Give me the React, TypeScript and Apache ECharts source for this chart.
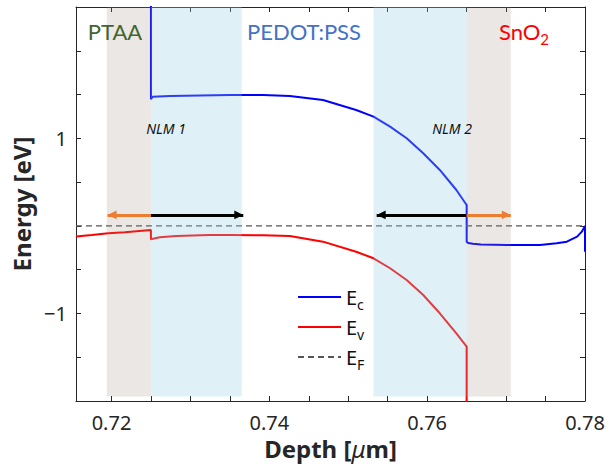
import React, { useEffect, useRef } from "react";
import * as echarts from "echarts";

// Axis ranges and ticks
const depthMin = 0.7155;
const depthMax = 0.78;
const energyMin = -2;
const energyMax = 2.5;
const depthTicks = [0.72, 0.725, 0.73, 0.735, 0.74, 0.745, 0.75, 0.755, 0.76, 0.765, 0.77, 0.775, 0.78];
const depthLabels = [0.72, 0.74, 0.76, 0.78];
const energyLabels = [-1, 1];

// Conduction band E_c
const ecDepth = [0.725, 0.725, 0.7252, 0.7274, 0.7312, 0.735, 0.7392, 0.7426, 0.7468, 0.751, 0.7532, 0.7553, 0.7574, 0.7595, 0.7616, 0.7637, 0.765, 0.765, 0.7652, 0.7658, 0.7668, 0.7701, 0.7743, 0.7764, 0.7777, 0.779, 0.7796, 0.78, 0.78];
const ecEnergy = [3.0, 1.446, 1.476, 1.484, 1.49, 1.495, 1.495, 1.484, 1.438, 1.324, 1.248, 1.133, 1.001, 0.829, 0.639, 0.41, 0.239, -0.18, -0.195, -0.205, -0.212, -0.218, -0.218, -0.199, -0.18, -0.123, -0.066, 0.0, -0.295];

// Valence band E_v
const evDepth = [0.7155, 0.7175, 0.7196, 0.7217, 0.725, 0.725, 0.7261, 0.7282, 0.7324, 0.735, 0.7392, 0.7426, 0.7468, 0.751, 0.7532, 0.7553, 0.7574, 0.7595, 0.7616, 0.7637, 0.765, 0.765];
const evEnergy = [-0.12, -0.104, -0.085, -0.073, -0.047, -0.153, -0.13, -0.115, -0.104, -0.104, -0.107, -0.115, -0.18, -0.295, -0.37, -0.484, -0.618, -0.789, -0.998, -1.227, -1.38, -2.5];

// Fermi level E_F
const efDepth = [0.7155, 0.78];
const efEnergy = [0, 0];

// Layer regions
const regionKind = ["oxide", "nlm", "nlm", "oxide"];
const regionStart = [0.7194, 0.725, 0.7532, 0.765];
const regionEnd = [0.725, 0.7365, 0.765, 0.7706];
const regionBottom = -1.95;

// Arrows
const arrowKind = ["interface", "bulk", "bulk", "interface"];
const arrowStart = [0.725, 0.725, 0.765, 0.765];
const arrowEnd = [0.7195, 0.7367, 0.7536, 0.7706];
const arrowEnergy = 0.125;

const zip = (xs: number[], ys: number[]) => xs.map((x, i) => [x, ys[i]]);

const AXIS = "#262626";
const SANS = "'Noto Sans', 'DejaVu Sans', sans-serif";
const NOTE = "Lato, 'Noto Sans', sans-serif";
// arrow head whose tip sits at the symbol centre (so the tip lands on the end point)
const ARROW_HEAD = "path://M10 10 L14.4 19 L5.6 19 Z M0 0 L20 0 M0 20 L20 20";

export default function App() {
  const ref = useRef<HTMLDivElement>(null);
  useEffect(() => {
    if (!ref.current) return;
    const chart = echarts.init(ref.current, undefined, { renderer: "svg" });
    const regionFill: Record<string, string> = {
      oxide: "rgba(155,135,120,0.2)",
      nlm: "rgba(150,210,225,0.3)",
    };
    const arrowColor: Record<string, string> = { interface: "#ED7D31", bulk: "#000000" };
    const axisCommon = {
      type: "value" as const,
      axisLine: { show: true, onZero: false, lineStyle: { color: AXIS, width: 1 } },
      splitLine: { show: false },
    };
    const option: any = {
      animation: false,
      grid: { left: 76, top: 7, width: 509, height: 394 },
      xAxis: [
        {
          ...axisCommon,
          min: depthMin,
          max: depthMax,
          position: "bottom",
          axisTick: { show: true, inside: true, length: 5, customValues: depthTicks, lineStyle: { color: AXIS } },
          axisLabel: {
            customValues: depthLabels,
            formatter: (v: number) => v.toFixed(2),
            fontSize: 20,
            color: AXIS,
            margin: 11,
            fontFamily: SANS,
          },
          name: "{b|Depth [}{i|μ}{b|m]}",
          nameLocation: "middle",
          nameGap: 25,
          nameTextStyle: {
            rich: {
              b: { fontSize: 24, fontWeight: "bold", fontFamily: SANS, color: AXIS },
              i: { fontSize: 24, fontStyle: "italic", fontFamily: SANS, color: AXIS },
            },
          },
        },
        {
          ...axisCommon,
          min: depthMin,
          max: depthMax,
          position: "top",
          axisTick: { show: true, inside: true, length: 5, customValues: depthTicks, lineStyle: { color: AXIS } },
          axisLabel: { show: false },
        },
      ],
      yAxis: [
        {
          ...axisCommon,
          min: energyMin,
          max: energyMax,
          interval: 0.5,
          position: "left",
          axisTick: { show: true, inside: true, length: 5, lineStyle: { color: AXIS } },
          axisLabel: {
            customValues: energyLabels,
            formatter: (v: number) => (v < 0 ? "\u2212" + Math.abs(v) : String(v)),
            fontSize: 20,
            color: AXIS,
            margin: 9,
            fontFamily: SANS,
          },
          name: "Energy [eV]",
          nameLocation: "middle",
          nameGap: 38,
          nameTextStyle: { fontSize: 24, fontWeight: "bold", fontFamily: SANS, color: AXIS },
        },
        {
          ...axisCommon,
          min: energyMin,
          max: energyMax,
          interval: 0.5,
          position: "right",
          axisTick: { show: true, inside: true, length: 5, lineStyle: { color: AXIS } },
          axisLabel: { show: false },
        },
      ],
      legend: {
        data: ["Ec", "Ev", "EF"],
        orient: "vertical",
        left: 297,
        top: 287,
        padding: 0,
        itemGap: 6,
        itemWidth: 43,
        itemHeight: 14,
        selectedMode: false,
        itemStyle: { opacity: 0, borderWidth: 0 },
        formatter: (name: string) => `{m|E}{s|${name.slice(1)}}`,
        textStyle: {
          rich: {
            m: { fontSize: 20, lineHeight: 28, fontFamily: SANS, color: "#111" },
            s: { fontSize: 14, lineHeight: 6, verticalAlign: "bottom", fontFamily: SANS, color: "#111" },
          },
        },
      },
      series: [
        {
          name: "Ec",
          type: "line",
          data: zip(ecDepth, ecEnergy),
          symbol: "none",
          lineStyle: { color: "#0000ff", width: 2 },
          itemStyle: { color: "#0000ff" },
          z: 2,
        },
        {
          name: "Ev",
          type: "line",
          data: zip(evDepth, evEnergy),
          symbol: "none",
          lineStyle: { color: "#ff0000", width: 2 },
          itemStyle: { color: "#ff0000" },
          z: 2,
        },
        {
          name: "EF",
          type: "line",
          data: zip(efDepth, efEnergy),
          symbol: "none",
          lineStyle: { color: "#555555", width: 1.3, type: [6, 4] },
          itemStyle: { color: "#555555" },
          z: 2,
        },
        {
          name: "regions",
          type: "line",
          data: [],
          z: 5,
          markArea: {
            silent: true,
            z: 5,
            data: regionStart.map((s, i) => [
              { xAxis: s, yAxis: regionBottom, itemStyle: { color: regionFill[regionKind[i]] } },
              { xAxis: regionEnd[i], yAxis: energyMax },
            ]),
          },
        },
        {
          name: "arrows",
          type: "lines",
          coordinateSystem: "cartesian2d",
          xAxisIndex: 0,
          yAxisIndex: 0,
          z: 10,
          silent: true,
          symbol: ["none", ARROW_HEAD],
          symbolSize: 20,
          lineStyle: { width: 3, opacity: 1, curveness: 0 },
          data: arrowStart.map((s, i) => ({
            coords: [
              [s, arrowEnergy],
              [arrowEnd[i], arrowEnergy],
            ],
            lineStyle: { color: arrowColor[arrowKind[i]] },
          })),
        },
      ],
      graphic: [
        {
          type: "text",
          x: 115,
          y: 31,
          z: 20,
          style: { text: "PTAA", fill: "#41652b", fontSize: 22, fontFamily: NOTE, align: "center", verticalAlign: "middle" },
        },
        {
          type: "text",
          x: 304,
          y: 31,
          z: 20,
          style: { text: "PEDOT:PSS", fill: "#4472c4", fontSize: 22, fontFamily: NOTE, align: "center", verticalAlign: "middle" },
        },
        {
          type: "text",
          x: 524,
          y: 31,
          z: 20,
          style: {
            text: "{a|SnO}{b|2}",
            align: "center",
            verticalAlign: "middle",
            rich: {
              a: { fontSize: 22, lineHeight: 30, fontFamily: NOTE, fill: "#ff0000", color: "#ff0000" },
              b: { fontSize: 15, lineHeight: 15, verticalAlign: "bottom", fontFamily: NOTE, fill: "#ff0000", color: "#ff0000" },
            },
          },
        },
        {
          type: "text",
          x: 166,
          y: 128,
          z: 20,
          style: { text: "NLM 1", fill: "#111", fontSize: 14, fontStyle: "italic", fontFamily: SANS, align: "center", verticalAlign: "middle" },
        },
        {
          type: "text",
          x: 452,
          y: 128,
          z: 20,
          style: { text: "NLM 2", fill: "#111", fontSize: 14, fontStyle: "italic", fontFamily: SANS, align: "center", verticalAlign: "middle" },
        },
      ],
    };
    chart.setOption(option);
    return () => chart.dispose();
  }, []);
  return (
    <div
      ref={ref}
      style={{ position: "fixed", left: 0, top: 0, width: 610, height: 466, background: "#fff" }}
    />
  );
}
